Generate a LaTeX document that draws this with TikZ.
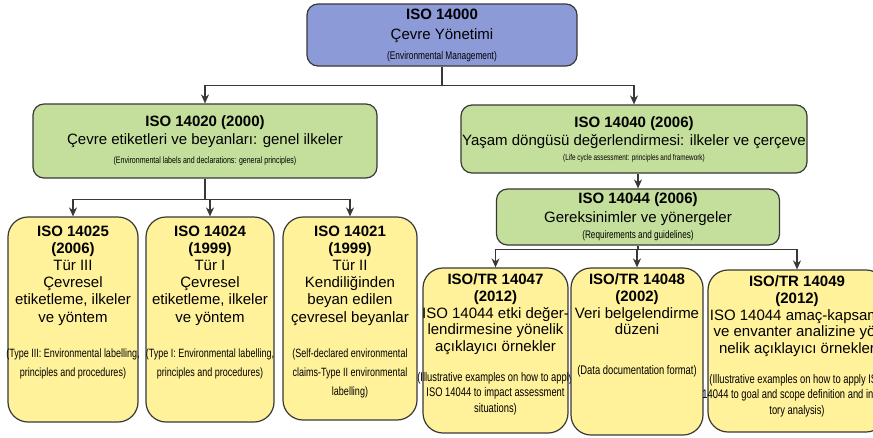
\documentclass[tikz,border=0pt]{standalone}
\usepackage{fontspec}
\setmainfont{Liberation Sans}
\newfontfamily\narrowfont[FakeStretch=0.75]{Liberation Sans}
\usepackage{xcolor}
\usepackage{tikz}
\usetikzlibrary{positioning,arrows.meta}
\definecolor{isoblue}{HTML}{8C9AD8}
\definecolor{isogreen}{HTML}{C4DF9B}
\definecolor{isoyellow}{HTML}{FFF29A}
\definecolor{edge}{HTML}{383838}
\newcommand{\eng}[2][12]{{\narrowfont\fontsize{#1}{#1}\selectfont #2}}
\tikzset{
  box/.style={draw=edge,line width=1.2pt,inner sep=0pt},
  topbox/.style={box,fill=isoblue,rounded corners=11pt,align=center,font=\fontsize{15}{20}\selectfont},
  greenbox/.style={box,fill=isogreen,rounded corners=11pt,align=center,font=\fontsize{15}{18}\selectfont},
  yellowbox/.style={box,fill=isoyellow,rounded corners=20pt},
  ytext/.style={inner sep=0pt,align=center,font=\fontsize{15}{#1}\selectfont},
  ytext/.default=17.2,
  trunk/.style={draw=edge,line width=1.1pt},
  link/.style={trunk,-{Stealth[length=9pt,width=8pt]}},
}

\begin{document}
\begin{tikzpicture}[x=1pt,y=1pt]
  \useasboundingbox (0,0) rectangle (873,-437);
  \clip (0,0) rectangle (873,-437);

  % top level
  \node[topbox,minimum width=270pt,minimum height=62pt] (env) at (442,-35) {
    \textbf{ISO 14000}\\Çevre Yönetimi\\[0pt]\eng[11.1]{(Environmental Management)}};

  % second level
  \node[greenbox,minimum width=344pt,minimum height=74pt] (labels) at (205,-141) {
    \textbf{ISO 14020 (2000)}\\Çevre etiketleri ve beyanları: genel ilkeler\\[1pt]
    \eng[9.35]{(Environmental labels and declarations: general principles)}};
  \node[greenbox,minimum width=346pt,minimum height=68pt] (lca) at (634,-139) {
    \textbf{ISO 14040 (2006)}\\Yaşam döngüsü değerlendirmesi: ilkeler ve çerçeve\\[-3pt]
    \eng[8.5]{(Life cycle assessment: principles and framework)}};
  \node[greenbox,minimum width=283pt,minimum height=56pt] (req) at (638,-217) {
    \textbf{ISO 14044 (2006)}\\[1pt]Gereksinimler ve yönergeler\\[-2pt]
    \eng[10.9]{(Requirements and guidelines)}};

  % labelling standards
  \node[yellowbox,minimum width=130pt,minimum height=205pt] (t25) at (73,-319.5) {};
  \node[ytext,below=9pt of t25.north] (t25txt) {
    \textbf{ISO 14025}\\\textbf{(2006)}\\Tür III\\Çevresel\\etiketleme, ilkeler\\ve yöntem\\[18pt]
    \eng{(Type III: Environmental labelling,}\\[2pt]\eng{principles and procedures)}};
  \node[yellowbox,minimum width=128pt,minimum height=205pt] (t24) at (210,-319.5) {};
  \node[ytext,below=9pt of t24.north] (t24txt) {
    \textbf{ISO 14024}\\\textbf{(1999)}\\Tür I\\Çevresel\\etiketleme, ilkeler\\ve yöntem\\[18pt]
    \eng{(Type I: Environmental labelling,}\\[2pt]\eng{principles and procedures)}};
  \node[yellowbox,minimum width=134pt,minimum height=203pt] (t21) at (350,-318.5) {};
  \node[ytext,below=9pt of t21.north] (t21txt) {
    \textbf{ISO 14021}\\\textbf{(1999)}\\Tür II\\Kendiliğinden\\beyan edilen\\çevresel beyanlar\\[18pt]
    \eng{(Self-declared environmental}\\[2pt]\eng{claims-Type II environmental}\\[2pt]\eng{labelling)}};

  % technical reports
  \node[yellowbox,minimum width=145pt,minimum height=165pt] (tr47) at (495.5,-350.5) {};
  \node[ytext=16.8,below=6pt of tr47.north] (tr47txt) {
    \textbf{ISO/TR 14047}\\\textbf{(2012)}\\ISO 14044 etki değer-\\lendirmesine yönelik\\açıklayıcı örnekler\\[13pt]
    \eng[12.5]{(Illustrative examples on how to apply}\\[-1.5pt]\eng[12.5]{ISO 14044 to impact assessment}\\[-1.5pt]
    \eng[12.5]{situations)}};
  \node[yellowbox,minimum width=132pt,minimum height=167pt] (tr48) at (637,-351.5) {};
  \node[ytext=16.8,below=6pt of tr48.north] (tr48txt) {
    \textbf{ISO/TR 14048}\\\textbf{(2002)}\\Veri belgelendirme\\düzeni\\[23pt]
    \eng[12.5]{(Data documentation format)}};
  \node[yellowbox,minimum width=178pt,minimum height=162pt] (tr49) at (797,-351) {};
  \node[ytext=16.8,below=6pt of tr49.north] (tr49txt) {
    \textbf{ISO/TR 14049}\\\textbf{(2012)}\\ISO 14044 amaç-kapsamı\\ve envanter analizine yö-\\nelik açıklayıcı örnekler\\[13pt]
    \eng[12.5]{(Illustrative examples on how to apply ISO}\\[-1.5pt]\eng[12.5]{14044 to goal and scope definition and inven-}\\[-1.5pt]
    \eng[12.5]{tory analysis)}};

  % connectors
  \draw[trunk] (env.south) -- ++(0,-19) coordinate (envfork);
  \draw[link] (envfork) -| (labels.north);
  \draw[link] (envfork) -| (lca.north);
  \draw[link] (req.north |- lca.south) -- (req.north);
  \draw[trunk] (labels.south) -- ++(0,-21) coordinate (labelsfork);
  \foreach \child in {t25,t24,t21}
    \draw[link] (labelsfork) -| (\child.north);
  \draw[trunk] (req.south) -- ++(0,-4) coordinate (reqfork);
  \foreach \child in {tr47,tr48,tr49}
    \draw[link] (reqfork) -| (\child.north);
\end{tikzpicture}
\end{document}
